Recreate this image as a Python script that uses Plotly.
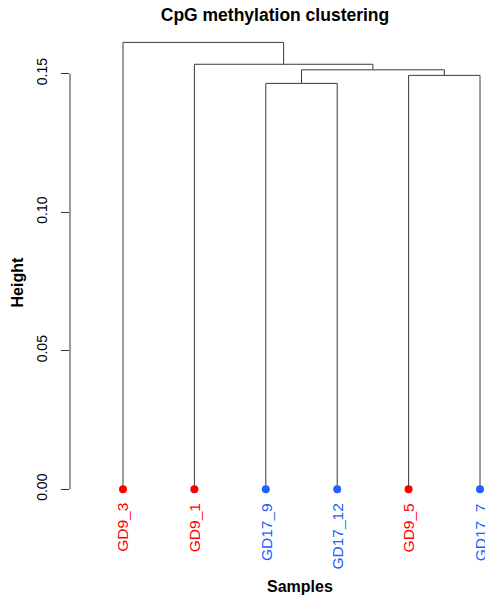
import plotly.graph_objects as go

# ---- data ----
labels = ["GD9_3", "GD9_1", "GD17_9", "GD17_12", "GD9_5", "GD17_7"]
groups = ["GD9", "GD9", "GD17", "GD17", "GD9", "GD17"]
# merges (R hclust style): negative = leaf index (1-based), positive = earlier merge
merge_left = [-3, -5, 1, -2, -1]
merge_right = [-4, -6, 2, 3, 4]
merge_height = [0.1465, 0.1494, 0.1514, 0.1534, 0.1613]
y_ticks = [0.00, 0.05, 0.10, 0.15]

group_colors = {"GD9": "#FF0000", "GD17": "#2060FF"}
FONT = "Liberation Sans, Arial, Helvetica, sans-serif"

# ---- dendrogram geometry ----
leaf_x = {i + 1: float(i + 1) for i in range(len(labels))}
node_x, node_h = {}, {}


def pos(ref):
    if ref < 0:
        return leaf_x[-ref], 0.0
    return node_x[ref], node_h[ref]


seg_x, seg_y = [], []
for k, (a, b, h) in enumerate(zip(merge_left, merge_right, merge_height), start=1):
    xa, ha = pos(a)
    xb, hb = pos(b)
    seg_x += [xa, xa, xb, xb, None]
    seg_y += [ha, h, h, hb, None]
    node_x[k] = (xa + xb) / 2
    node_h[k] = h

fig = go.Figure()
fig.add_trace(go.Scatter(x=seg_x, y=seg_y, mode="lines",
                         line=dict(color="#3a3a3a", width=1),
                         hoverinfo="skip", showlegend=False))
xs = [leaf_x[i + 1] for i in range(len(labels))]
cols = [group_colors[g] for g in groups]
fig.add_trace(go.Scatter(x=xs, y=[0] * len(xs), mode="markers",
                         marker=dict(color=cols, size=8, line=dict(width=0)),
                         text=labels, hoverinfo="text", showlegend=False,
                         cliponaxis=False))

for x, lab, c in zip(xs, labels, cols):
    fig.add_annotation(x=x, y=0, xref="x", yref="y", text=lab, showarrow=False,
                       textangle=-90, yanchor="top", xanchor="center", yshift=-12,
                       font=dict(family=FONT, size=15.5, color=c))

# y axis line from 0 to max tick (R style)
fig.add_shape(type="line", xref="paper", yref="y", x0=0, x1=0,
              y0=y_ticks[0], y1=y_ticks[-1], line=dict(color="#333", width=1))

fig.add_annotation(x=0.554, y=-0.160, xref="paper", yref="paper", text="<b>Samples</b>",
                   xanchor="center", yanchor="middle",
                   showarrow=False, font=dict(family=FONT, size=16, color="black"))
fig.add_annotation(x=-0.1265, y=0.473, xref="paper", yref="paper", text="<b>Height</b>",
                   xanchor="center", yanchor="middle",
                   textangle=-90, showarrow=False,
                   font=dict(family=FONT, size=16, color="black"))

fig.update_layout(
    width=485, height=599,
    margin=dict(l=70, r=0, t=30, b=89),
    paper_bgcolor="white", plot_bgcolor="white",
    title=dict(text="<b>CpG methylation clustering</b>", x=275 / 485, xanchor="center",
               y=1 - 15 / 599, yanchor="middle",
               font=dict(family=FONT, size=17.5, color="black")),
    xaxis=dict(range=[0.2577, 6.07], showgrid=False, zeroline=False, showline=False,
               showticklabels=False, ticks=""),
    yaxis=dict(range=[-0.00747, 0.16577], showgrid=False, zeroline=False, showline=False,
               tickmode="array", tickvals=y_ticks, ticktext=[f"{v:.2f}" for v in y_ticks],
               ticks="outside", ticklen=8, tickcolor="#333", tickwidth=1,
               tickangle=-90, ticklabelstandoff=8,
               tickfont=dict(family=FONT, size=14, color="black")),
)

fig.write_html("out.html", config={"displayModeBar": False},
               post_script="document.body.style.margin='0';document.body.style.overflow='hidden';")
